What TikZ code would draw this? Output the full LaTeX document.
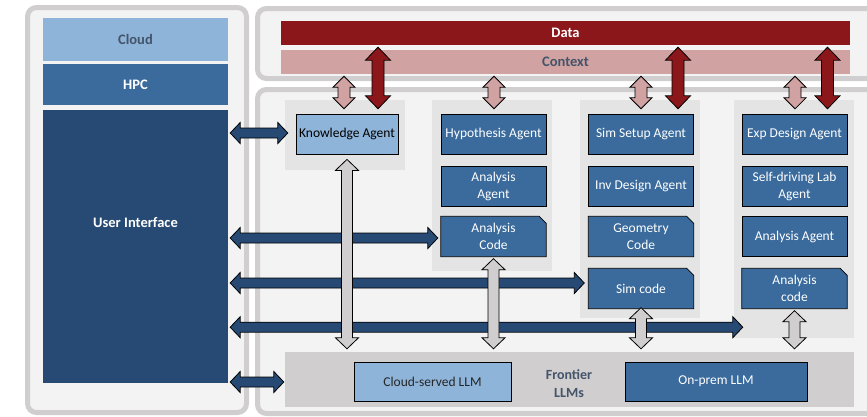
\documentclass[tikz,border=0pt]{standalone}
\usepackage{fontspec}
\setmainfont{Carlito}
\usetikzlibrary{calc}
\definecolor{panelfill}{HTML}{F3F3F3}
\definecolor{panelline}{HTML}{D0CECE}
\definecolor{grpgray}{HTML}{E4E4E4}
\definecolor{llmgray}{HTML}{D0CECE}
\definecolor{lightblue}{HTML}{8FB4D9}
\definecolor{midblue}{HTML}{3A6B9C}
\definecolor{navy}{HTML}{264A74}
\definecolor{datared}{HTML}{8B171B}
\definecolor{ctxpink}{HTML}{D0A2A2}
\definecolor{labelgray}{HTML}{44546A}
\newcommand{\VArrow}[6]{%
  \draw[blockline,fill=#6] let \p1=(#1),\p2=(#2) in
   (\x1,\y1) -- (\x1+#4,\y1-#5) -- (\x1+#3,\y1-#5) -- (\x1+#3,\y2+#5) -- (\x1+#4,\y2+#5) -- (\x1,\y2)
   -- (\x1-#4,\y2+#5) -- (\x1-#3,\y2+#5) -- (\x1-#3,\y1-#5) -- (\x1-#4,\y1-#5) -- cycle;}
\newcommand{\HArrow}[6]{%
  \draw[blockline,fill=#6] let \p1=(#1),\p2=(#2) in
   (\x1,\y1) -- (\x1+#5,\y1+#4) -- (\x1+#5,\y1+#3) -- (\x2-#5,\y1+#3) -- (\x2-#5,\y1+#4) -- (\x2,\y1)
   -- (\x2-#5,\y1-#4) -- (\x2-#5,\y1-#3) -- (\x1+#5,\y1-#3) -- (\x1+#5,\y1-#4) -- cycle;}
\newcommand{\codebox}[3]{%
  \node[codeshape] (#1) at (#2) {};
  \draw[codepoly] (#1.south west) -- (#1.north west) -- ([xshift=-7pt]#1.north east)
     -- ([yshift=-7pt]#1.north east) -- (#1.south east) -- cycle;
  \node[agenttxt] (#1t) at (#1) {#3};}
\begin{document}
\begin{tikzpicture}[x=1pt,y=-1pt,
  panel/.style={draw=panelline,fill=panelfill,line width=5pt,rounded corners=9pt},
  grp/.style={fill=grpgray,draw=none,inner sep=0pt,minimum width=120pt},
  agent/.style={draw=black,line width=0.8pt,fill=midblue,text=white,minimum width=105pt,
     minimum height=40pt,inner sep=0pt,align=center,font=\fontsize{13.5}{17}\selectfont},
  lagent/.style={agent,fill=lightblue,text=black},
  codeshape/.style={draw=none,fill=none,minimum width=105pt,minimum height=40pt,inner sep=0pt},
  codepoly/.style={draw=black,line width=0.8pt,fill=midblue,line join=miter},
  agenttxt/.style={text=white,align=center,inner sep=0pt,font=\fontsize{13.5}{17}\selectfont},
  bigbox/.style={draw=none,inner sep=0pt,minimum width=185pt,align=center,font=\bfseries\fontsize{14.5}{17}\selectfont},
  bar/.style={draw=none,inner sep=0pt,minimum width=569pt,minimum height=24pt,font=\bfseries\fontsize{14.5}{17}\selectfont},
  blockline/.style={draw=black,line width=0.8pt,line join=miter}]
\useasboundingbox (0,0) rectangle (867,416);
\clip (0,0) rectangle (867,416);
% panels
\draw[panel] (27.5,7.5) rectangle (246.5,412.5);
\draw[panel] (257.5,8.5) rectangle (900,78.5);
\draw[panel] (257.5,89.5) rectangle (900,413.5);
% left column
\node[bigbox,fill=lightblue,text=labelgray,minimum height=43pt] (cloud) at (135.5,39.5) {Cloud};
\node[bigbox,fill=midblue,text=white,minimum height=41pt] (hpc) at (135.5,84.5) {HPC};
\node[bigbox,fill=navy,minimum height=273pt] (ui) at (135.5,246.5) {};
\node[text=white,font=\bfseries\fontsize{14.5}{17}\selectfont] (uilabel) at (135.5,223) {User Interface};
% data / context
\node[bar,fill=datared,text=white] (data) at (565.5,33) {Data};
\node[bar,fill=ctxpink,text=labelgray] (ctx) at (565.5,62) {Context};
% groups
\node[grp,minimum height=70pt] (g1) at (345,135) {};
\node[grp,minimum height=171pt] (g2) at (492,185.5) {};
\node[grp,minimum height=218pt] (g3) at (640,209) {};
\node[grp,minimum height=238pt] (g4) at (794,219) {};
\node[grp,fill=llmgray,minimum width=569pt,minimum height=55pt] (llm) at (569.5,379.5) {};
% agents
\node[lagent,minimum width=102pt] (ka) at (347,134) {Knowledge Agent};
\node[agent] (hyp) at (493.5,134) {Hypothesis Agent};
\node[agent] (aag) at (493.5,186) {Analysis\\Agent};
\codebox{acode}{493.5,236.5}{Analysis\\Code}
\node[agent] (ssa) at (641,134) {Sim Setup Agent};
\node[agent] (ida) at (641,186) {Inv Design Agent};
\codebox{geo}{641,236.5}{Geometry\\Code}
\codebox{simcode}{641,288.5}{Sim code}
\node[agent] (eda) at (794.5,134) {Exp Design Agent};
\node[agent] (sdl) at (794.5,186) {Self-driving Lab\\Agent};
\node[agent] (aag4) at (794.5,236.5) {Analysis Agent};
\codebox{acode4}{794.5,288.5}{Analysis\\code}
% LLMs
\node[lagent,minimum width=157pt,minimum height=39pt,text=black!85] (csllm) at (432.5,381.5) {Cloud-served LLM};
\node[agent,minimum width=182pt,minimum height=39pt] (opllm) at (716,381.5) {On-prem LLM};
\node[text=labelgray,align=center,font=\bfseries\fontsize{14}{18}\selectfont] (frontier) at (569,384) {Frontier\\LLMs};
% context arrows
\VArrow{$(ctx.south -| ka.north)+(-3,2)$}{$(g1.north -| ka.north)+(-3,9)$}{6pt}{11pt}{11pt}{ctxpink}
\VArrow{$(ctx.south -| hyp.north)+(0.5,2)$}{$(g2.north -| hyp.north)+(0.5,9)$}{6pt}{11pt}{11pt}{ctxpink}
\VArrow{$(ctx.south -| ssa.north)+(0,2)$}{$(g3.north -| ssa.north)+(0,9)$}{6pt}{11pt}{11pt}{ctxpink}
\VArrow{$(ctx.south -| eda.north)+(0.5,2)$}{$(g4.north -| eda.north)+(0.5,9)$}{6pt}{11pt}{11pt}{ctxpink}
% data arrows
\VArrow{$(data.south -| ka.north)+(31,2)$}{$(g1.north -| ka.north)+(31,9)$}{6pt}{12.5pt}{13pt}{datared}
\VArrow{$(data.south -| ssa.north)+(37,2)$}{$(g3.north -| ssa.north)+(37,9)$}{6pt}{12.5pt}{13pt}{datared}
\VArrow{$(data.south -| eda.north)+(33,2)$}{$(g4.north -| eda.north)+(33,9)$}{6pt}{12.5pt}{13pt}{datared}
% UI arrows
\HArrow{$(ui.east |- g1.west)+(2,-2)$}{$(g1.west)+(3,-2)$}{5pt}{10.5pt}{10pt}{navy}
\HArrow{$(ui.east |- acode.west)+(2,1.5)$}{$(acode.west)+(-3,1.5)$}{5pt}{10.5pt}{10pt}{navy}
\HArrow{$(ui.east |- simcode.west)+(2,-5.5)$}{$(simcode.west)+(-4,-5.5)$}{5pt}{10.5pt}{10pt}{navy}
\HArrow{$(ui.east |- g4.south west)+(2,-11)$}{$(g4.south west)+(9,-11)$}{5pt}{10.5pt}{10pt}{navy}
\HArrow{$(ui.east |- llm.west)+(2,2.5)$}{$(llm.west)+(-1,2.5)$}{5pt}{10.5pt}{10pt}{navy}
% LLM arrows
\VArrow{$(ka.south)+(0,5)$}{$(ka.south |- llm.north)+(0,-3)$}{5.5pt}{11.5pt}{11pt}{llmgray}
\VArrow{$(acode.south)+(0,2)$}{$(acode.south |- llm.north)+(0,-3)$}{5.5pt}{11.5pt}{11pt}{llmgray}
\VArrow{$(simcode.south)+(0,-1)$}{$(simcode.south |- llm.north)+(0,-3)$}{5.5pt}{11.5pt}{11pt}{llmgray}
\VArrow{$(acode4.south)+(0,2)$}{$(acode4.south |- llm.north)+(0,-3)$}{5.5pt}{11.5pt}{11pt}{llmgray}
\end{tikzpicture}
\end{document}
